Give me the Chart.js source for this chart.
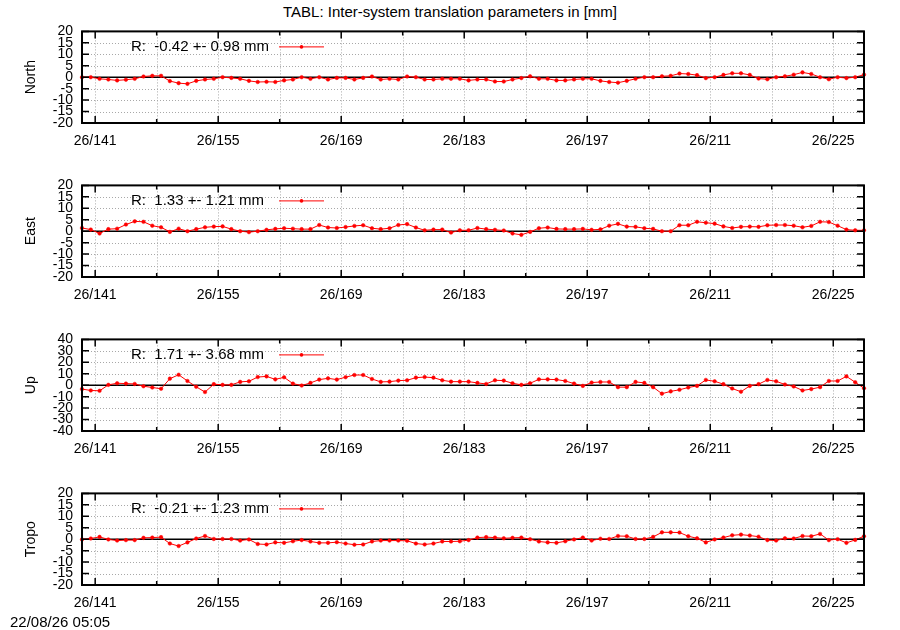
<!DOCTYPE html>
<html>
<head>
<meta charset="utf-8">
<script src="https://cdn.jsdelivr.net/npm/chart.js@4.4.1/dist/chart.umd.min.js"></script>
<style>
  body { margin: 0; background: #fff; width: 900px; height: 630px; position: relative; overflow: hidden;
         font-family: "Liberation Sans", Arial, sans-serif; color: #000; }
  .panel { position: absolute; left: 0; width: 900px; height: 140px; }
  #title { position: absolute; top: 4px; left: 0; width: 900px; text-align: center; font-size: 15px; line-height: 16px; }
  #stamp { position: absolute; left: 10px; top: 614px; font-size: 15px; line-height: 16px; }
</style>
</head>
<body>
<div id="title">TABL: Inter-system translation parameters in [mm]</div>
<div class="panel" style="top:14px"><canvas id="cNorth"></canvas></div>
<div class="panel" style="top:168px"><canvas id="cEast"></canvas></div>
<div class="panel" style="top:322px"><canvas id="cUp"></canvas></div>
<div class="panel" style="top:476px"><canvas id="cTropo"></canvas></div>
<div id="stamp">22/08/26 05:05</div>
<script>
'use strict';
// dni (doy) z etykietą i bez etykiety; punkty są w południe każdego dnia
const majorDays = [141, 155, 169, 183, 197, 211, 225];
const minorDays = [148, 162, 176, 190, 204, 218];
const firstDay = 139.5;
const yearTag = '26/';

// mm, dzień 139.5 ... 228.5
const north = [0, 0, -0.7, -1, -1.4, -1.1, -0.7, 0.3, 0.6, 0.6,
  -1.7, -2.6, -2.9, -1.6, -1, -0.7, 0, -0.3, -0.7, -1.6,
  -2.1, -2, -2.1, -1.4, -1, 0, -0.7, 0, -1, -0.3,
  -0.3, -1, -0.3, 0.3, -1, -0.7, -1, 0.3, 0, -1,
  -1, -0.7, -0.7, -0.7, -1.4, -1, -1, -1.9, -1.9, -1,
  -0.4, 0.4, -0.7, -0.7, -1.4, -1.4, -1, -0.7, -0.7, -1.6,
  -2.1, -2.4, -1.6, -0.7, 0, 0, 0.4, 0.6, 1.6, 1.4,
  0.9, -0.4, 0, 1.0, 1.7, 1.7, 1.0, -0.6, -0.9, 0,
  0.4, 1.1, 2.1, 1.4, 0, -0.9, 0, -0.4, 0, 1.1];
const east = [1.4, 0.7, -1.0, 0.9, 1.1, 2.9, 4.3, 4.1, 2.4, 1.7,
  -0.3, 1.1, 0, 0.9, 1.7, 2.0, 2.1, 0.9, 0, -0.4,
  0, 0.6, 1.0, 1.3, 1.1, 0.9, 0.9, 2.7, 1.6, 1.4,
  1.8, 2.3, 2.6, 1.3, 0.9, 1.3, 2.7, 3.1, 1.6, 0.4,
  0.7, 0.7, -0.6, 0.4, 0.4, 1.4, 0.9, 0.6, 0.3, -1.0,
  -1.6, -0.3, 1.3, 1.6, 1.0, 0.9, 0.9, 1.0, 0.6, 0.8,
  2.4, 3.2, 2.0, 1.9, 1.3, 1.0, 0, 0, 2.6, 2.6,
  4.1, 3.7, 3.3, 2.1, 1.4, 1.9, 2.0, 1.9, 2.6, 2.7,
  2.7, 2.4, 1.7, 2.3, 4.1, 4.0, 2.4, 0.7, 0.4, 0.4];
const up = [-3.4, -4.6, -4.9, 0.3, 1.7, 1.4, 1.1, -0.9, -2.0, -3.1,
  5.7, 9.1, 3.7, -1.4, -6.0, 0.9, 0.3, 0.3, 2.9, 3.4,
  7.1, 7.7, 5.1, 6.9, 1.4, -0.3, 2.0, 4.9, 6.0, 4.9,
  7.0, 8.9, 8.9, 5.4, 2.9, 3.1, 4.0, 4.3, 6.6, 7.1,
  6.6, 4.3, 3.1, 3.1, 3.1, 2.0, 1.1, 4.3, 4.0, 1.7,
  0.3, 1.7, 5.1, 5.1, 4.9, 3.7, 1.4, -0.6, 2.3, 2.8,
  2.8, -1.7, -1.7, 2.9, 2.0, -1.7, -7.4, -5.4, -4.0, -2.0,
  -0.6, 4.6, 3.4, 0.9, -2.9, -5.7, -0.6, 0.9, 4.6, 3.4,
  0.6, -1.1, -4.6, -3.4, -1.7, 3.7, 3.7, 7.7, 2.6, -2.6];
const tropo = [-0.1, 0.3, 1.0, -0.1, -0.6, -0.4, -0.4, 0.6, 0.7, 0.9,
  -1.9, -3.0, -1.4, 0.3, 1.4, 0.1, 0.1, 0.1, -0.6, -0.1,
  -2.1, -2.3, -1.4, -1.6, -0.9, -0.4, -1.0, -1.6, -1.6, -1.3,
  -1.9, -2.4, -2.3, -1.0, -0.6, -0.6, -0.6, -0.7, -1.9, -2.3,
  -1.9, -1.0, -1.0, -0.9, -0.4, 0.7, 0.9, 0.7, 0.4, 0.6,
  0.7, 0, -1.0, -1.4, -1.6, -0.9, -0.1, 0.7, -0.6, 0.2,
  0.1, 1.4, 1.3, 0.1, 0.1, 1.0, 3.0, 3.0, 2.9, 1.3,
  0.4, -1.4, -0.1, 0.7, 1.7, 2.0, 1.6, 1.1, -0.4, -0.6,
  0.4, 0.3, 1.4, 1.3, 2.3, -0.4, 0, -1.6, -0.3, 1.3];

const keyTexts = ['R:  -0.42 +- 0.98 mm', 'R:  1.33 +- 1.21 mm', 'R:  1.71 +- 3.68 mm', 'R:  -0.21 +- 1.23 mm'];

const panels = [
  { id: 'cNorth', name: 'North', vals: north, lim: 20, step: 5, key: keyTexts[0] },
  { id: 'cEast', name: 'East', vals: east, lim: 20, step: 5, key: keyTexts[1] },
  { id: 'cUp', name: 'Up', vals: up, lim: 40, step: 10, key: keyTexts[2] },
  { id: 'cTropo', name: 'Tropo', vals: tropo, lim: 20, step: 5, key: keyTexts[3] },
];

const RED = '#ff0000';
const FONT = '"Liberation Sans", Arial, sans-serif';

// ramka w stylu gnuplota: siatka kropkowana, oś zero, ticki do środka, klucz
const gnuFrame = {
  id: 'gnuFrame',
  beforeDatasetsDraw(chart) {
    const { ctx, chartArea: a, scales: { x, y } } = chart;
    ctx.save();
    ctx.strokeStyle = '#a8a8a8';
    ctx.lineWidth = 1;
    ctx.setLineDash([1, 2]);
    ctx.beginPath();
    x.ticks.forEach(t => {
      const px = Math.round(x.getPixelForValue(t.value)) + 0.5;
      ctx.moveTo(px, a.top); ctx.lineTo(px, a.bottom);
    });
    y.ticks.forEach(t => {
      if (t.value === 0 || t.value === y.min || t.value === y.max) return;
      const py = Math.round(y.getPixelForValue(t.value)) + 0.5;
      ctx.moveTo(a.left, py); ctx.lineTo(a.right, py);
    });
    ctx.stroke();
    ctx.setLineDash([]);
    ctx.strokeStyle = '#000';
    ctx.lineWidth = 1.5;
    const y0 = y.getPixelForValue(0);
    ctx.beginPath(); ctx.moveTo(a.left, y0); ctx.lineTo(a.right, y0); ctx.stroke();
    ctx.restore();
  },
  afterDatasetsDraw(chart, args, opts) {
    const { ctx, chartArea: a, scales: { x, y } } = chart;
    ctx.save();
    ctx.strokeStyle = '#000';
    ctx.lineWidth = 1.5;
    ctx.beginPath();
    y.ticks.forEach(t => {
      const py = y.getPixelForValue(t.value);
      ctx.moveTo(a.left, py); ctx.lineTo(a.left + 7, py);
      ctx.moveTo(a.right, py); ctx.lineTo(a.right - 7, py);
    });
    x.ticks.forEach(t => {
      const px = x.getPixelForValue(t.value);
      const len = majorDays.includes(t.value) ? 7 : 4;
      ctx.moveTo(px, a.bottom); ctx.lineTo(px, a.bottom - len);
      ctx.moveTo(px, a.top); ctx.lineTo(px, a.top + len);
    });
    ctx.stroke();
    ctx.lineWidth = 2;
    ctx.strokeRect(a.left, a.top, a.right - a.left, a.bottom - a.top);

    // klucz
    const ky = a.top + 15.5;
    ctx.font = '15px ' + FONT;
    ctx.fillStyle = '#000';
    ctx.textBaseline = 'middle';
    ctx.textAlign = 'left';
    ctx.fillText(opts.key, 131, ky);
    ctx.strokeStyle = RED;
    ctx.lineWidth = 1;
    ctx.beginPath(); ctx.moveTo(279, ky); ctx.lineTo(324, ky); ctx.stroke();
    ctx.fillStyle = RED;
    ctx.beginPath(); ctx.arc(301.5, ky, 1.8, 0, Math.PI * 2); ctx.fill();
    ctx.restore();
  },
};

function drawPanel(p) {
  const pts = p.vals.map((v, i) => ({ x: firstDay + i, y: v }));
  new Chart(document.getElementById(p.id), {
    type: 'line',
    data: { datasets: [{ data: pts, borderColor: RED, backgroundColor: RED, borderWidth: 1,
      pointRadius: 1.8, pointHoverRadius: 1.8, pointBorderWidth: 0.5, pointStyle: 'circle', tension: 0, clip: 4 }] },
    plugins: [gnuFrame],
    options: {
      responsive: true, maintainAspectRatio: false, animation: false,
      layout: { padding: { top: 10, right: 36, left: 0, bottom: 0 } },
      plugins: { legend: { display: false }, tooltip: { enabled: false }, gnuFrame: { key: p.key } },
      scales: {
        x: {
          type: 'linear', min: firstDay, max: firstDay + p.vals.length - 1,
          afterBuildTicks: s => { s.ticks = [...majorDays, ...minorDays].sort((a, b) => a - b).map(v => ({ value: v })); },
          afterFit: s => { s.height = 31; },
          grid: { display: true, drawOnChartArea: false, drawTicks: false, color: 'rgba(0,0,0,0)' },
          border: { display: false },
          ticks: { autoSkip: false, maxRotation: 0, padding: 10, color: '#000',
            font: { family: FONT, size: 14 },
            callback: v => majorDays.includes(v) ? yearTag + v : '' },
        },
        y: {
          min: -p.lim, max: p.lim,
          afterFit: s => { s.width = 82; },
          grid: { display: true, drawOnChartArea: false, drawTicks: false, color: 'rgba(0,0,0,0)' },
          border: { display: false },
          ticks: { stepSize: p.step, autoSkip: false, padding: 9, color: '#000', font: { family: FONT, size: 14 } },
          title: { display: true, text: p.name, color: '#000', font: { family: FONT, size: 14 },
            padding: { top: 23, bottom: 0 } },
        },
      },
    },
  });
}

panels.forEach(drawPanel);
</script>
</body>
</html>
